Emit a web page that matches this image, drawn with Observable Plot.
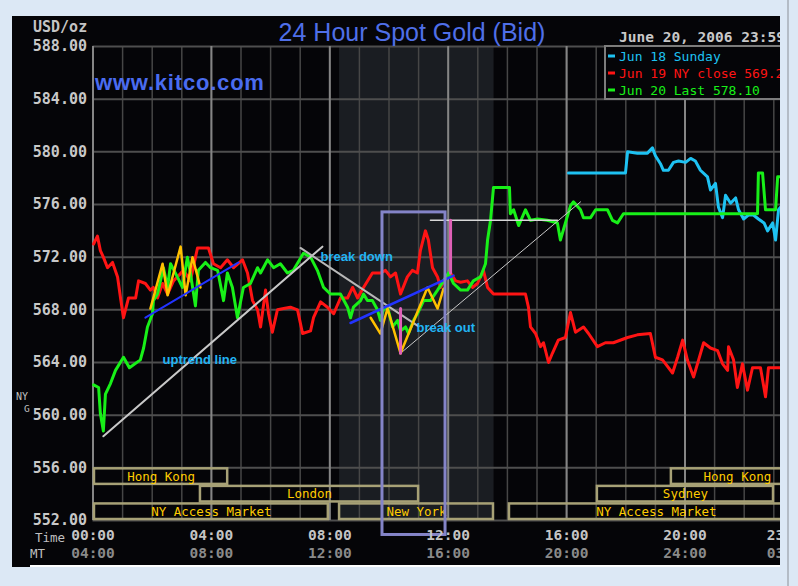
<!DOCTYPE html>
<html><head><meta charset="utf-8">
<script src="https://cdn.jsdelivr.net/npm/d3@7"></script>
<script src="https://cdn.jsdelivr.net/npm/@observablehq/plot@0.6"></script>
<style>
html,body{margin:0;padding:0;background:#dce8f5;overflow:hidden;width:798px;height:586px;}
#panel{position:absolute;left:12px;top:16px;width:768px;height:551px;background:#050508;}
#strip{position:absolute;left:30px;top:565px;width:750px;height:2px;background:#ffffff;}
#chart{position:absolute;left:0;top:0;width:810px;height:586px;}
#chart svg{max-width:none !important;width:810px !important;height:586px !important;}
#over{position:absolute;left:0;top:0;}
#rightbg{position:absolute;left:780px;top:0;width:18px;height:586px;background:#dce8f5;}
#rline{position:absolute;left:787px;top:0;width:2px;height:586px;background:#b4bcc6;}
</style></head>
<body>
<div id="panel"></div>
<div id="strip"></div>
<div id="chart"></div>
<svg id="over" width="798" height="586"></svg>
<div id="rightbg"></div>
<div id="rline"></div>
<script>
// ---- data (hours after 00:00 NY time, USD/oz) ----
const yTicks = [552, 556, 560, 564, 568, 572, 576, 580, 584, 588];
const xTicks = [0, 4, 8, 12, 16, 20, 23.5];
const timeLabels = ["00:00", "04:00", "08:00", "12:00", "16:00", "20:00", "23:30"];
const mtLabels = ["04:00", "08:00", "12:00", "16:00", "20:00", "24:00", "03:30"];
const hourLines = d3.range(0, 24, 1);
const majorHourLines = [0, 4, 8, 12, 16, 20];

const seriesNames = ["Jun 18 Sunday", "Jun 19 NY close 569.20", "Jun 20 Last 578.10"];
const seriesColors = ["#1ec2f2", "#ff1414", "#18f018"];

const jun18 = [[16.06,578.4],[17.99,578.4],[18.06,580.0],[18.39,579.9],[18.73,579.9],[18.90,580.3],[19.00,579.7],[19.17,579.1],[19.27,578.6],[19.44,578.6],[19.61,579.2],[19.78,579.3],[20.02,579.2],[20.19,579.5],[20.35,579.3],[20.52,578.6],[20.76,578.1],[20.86,577.1],[21.03,577.6],[21.13,575.8],[21.27,575.0],[21.37,576.7],[21.54,576.1],[21.71,576.5],[21.81,575.6],[21.98,574.9],[22.14,575.2],[22.31,575.2],[22.48,574.9],[22.67,574.6],[22.79,574.0],[22.96,574.6],[23.06,573.3],[23.16,575.6],[23.23,575.8]];

const jun19 = [[0.02,573.0],[0.15,573.6],[0.25,572.5],[0.35,572.0],[0.49,571.2],[0.66,571.6],[0.83,570.5],[0.93,568.9],[1.03,567.4],[1.20,568.9],[1.44,568.9],[1.54,570.2],[1.77,570.0],[1.94,569.5],[2.04,569.7],[2.18,568.9],[2.35,570.0],[2.52,569.2],[2.72,570.2],[2.89,570.6],[3.06,571.0],[3.29,570.2],[3.53,572.7],[3.73,572.7],[3.90,572.7],[4.07,571.5],[4.31,571.2],[4.54,571.8],[4.75,571.2],[5.05,571.8],[5.22,570.8],[5.39,568.7],[5.56,568.0],[5.66,566.7],[5.83,569.5],[5.93,567.7],[6.06,566.3],[6.23,568.0],[6.44,568.1],[6.67,568.2],[6.91,568.0],[7.08,566.2],[7.35,566.4],[7.45,567.4],[7.69,568.6],[7.92,568.2],[8.13,567.7],[8.36,568.9],[8.60,568.9],[8.77,569.7],[8.94,568.9],[9.14,569.7],[9.44,570.8],[9.71,570.8],[9.88,571.0],[10.05,570.5],[10.22,570.8],[10.39,569.2],[10.62,570.5],[10.79,571.0],[10.96,570.8],[11.06,572.5],[11.23,574.0],[11.33,573.3],[11.47,571.2],[11.64,570.5],[11.74,569.7],[11.91,570.4],[12.08,570.8],[12.25,570.2],[12.42,570.1],[12.65,570.2],[12.82,569.7],[12.99,570.0],[13.19,571.0],[13.33,569.7],[13.53,569.2],[14.61,569.2],[14.71,568.2],[14.78,566.7],[14.95,566.2],[15.12,565.2],[15.22,565.5],[15.39,564.0],[15.52,564.7],[15.72,565.7],[15.96,565.9],[16.13,567.8],[16.30,566.3],[16.57,566.7],[16.74,566.2],[17.04,565.2],[17.31,565.5],[17.58,565.5],[18.06,565.9],[18.39,566.1],[18.83,566.2],[19.00,564.4],[19.24,564.2],[19.58,563.2],[19.75,564.4],[19.92,565.7],[20.08,564.2],[20.29,562.9],[20.46,564.2],[20.63,565.5],[20.86,565.1],[21.10,564.9],[21.27,563.9],[21.44,563.4],[21.47,565.2],[21.64,564.2],[21.77,562.1],[21.94,563.9],[22.11,561.9],[22.28,563.6],[22.55,563.6],[22.72,561.4],[22.82,563.6],[23.16,563.6],[23.23,563.6]];

const jun20 = [[0.02,562.3],[0.19,562.1],[0.25,560.1],[0.35,558.8],[0.42,561.6],[0.59,562.4],[0.76,563.4],[1.03,564.4],[1.23,563.6],[1.60,564.2],[1.71,565.1],[1.84,566.7],[2.01,567.7],[2.04,568.7],[2.18,569.2],[2.38,571.2],[2.52,569.7],[2.62,571.5],[2.85,570.5],[3.02,569.7],[3.19,572.0],[3.29,570.8],[3.46,568.3],[3.56,571.0],[3.80,571.6],[3.97,571.2],[4.21,571.0],[4.41,568.7],[4.54,570.8],[4.71,569.7],[4.88,567.4],[5.08,569.7],[5.32,570.0],[5.56,571.2],[5.66,570.8],[5.90,571.8],[6.10,571.2],[6.33,571.5],[6.57,570.8],[6.77,571.0],[7.11,572.3],[7.35,572.0],[7.58,571.0],[7.79,569.7],[8.02,569.2],[8.36,569.2],[8.60,568.2],[8.70,567.4],[8.80,568.2],[9.04,568.7],[9.14,569.2],[9.27,568.7],[9.44,568.7],[9.61,568.0],[9.71,567.2],[9.81,568.0],[9.95,568.2],[10.12,566.7],[10.29,567.2],[10.39,566.4],[10.56,566.7],[10.66,566.2],[10.83,567.2],[10.96,567.7],[11.17,568.7],[11.40,568.7],[11.64,569.5],[11.84,570.2],[12.01,570.8],[12.18,570.0],[12.42,569.5],[12.65,569.5],[12.85,570.2],[13.09,570.5],[13.26,571.5],[13.33,573.3],[13.43,574.8],[13.53,577.3],[14.07,577.3],[14.10,575.3],[14.21,575.6],[14.38,574.4],[14.61,575.6],[14.78,574.8],[15.02,574.9],[15.35,574.8],[15.69,574.6],[15.79,573.3],[15.96,574.6],[16.13,575.9],[16.23,576.2],[16.47,575.6],[16.57,575.0],[16.81,575.0],[16.98,575.6],[17.38,575.6],[17.55,574.8],[17.72,574.6],[17.92,575.3],[22.45,575.3],[22.48,578.4],[22.62,578.4],[22.72,575.6],[23.06,575.6],[23.13,578.1],[23.23,578.1]];

// trading sessions (hours) and their row in the session strip
const sessions = [
  {name: "Hong Kong", start: 0.05, end: 4.55, row: 0},
  {name: "London", start: 3.63, end: 11.0, row: 1},
  {name: "NY Access Market", start: 0.05, end: 7.95, row: 2},
  {name: "New York", start: 8.33, end: 13.53, row: 2},
  {name: "NY Access Market", start: 14.07, end: 24, row: 2},
  {name: "Sydney", start: 17.04, end: 22.99, row: 1},
  {name: "Hong Kong", start: 19.54, end: 24, row: 0}
];
const nySessionShade = [{start: 8.33, end: 13.55}];

// hand-drawn annotations
const uptrendLine = [[0.35,558.4],[7.75,572.8]];
const breakDownLine = [[7.01,572.7],[10.96,566.8]];
const breakOutLine = [[10.39,564.7],[16.47,576.2]];
const channelLine1 = [[1.77,567.4],[4.92,571.6]];
const channelLine2 = [[8.70,567.0],[12.18,570.6]];
const zigzag1 = [[1.94,568.1],[2.35,571.5],[2.52,569.1],[2.96,572.8],[3.13,569.1],[3.36,572.0],[3.63,569.7]];
const zigzag2 = [[9.38,567.4],[9.71,566.2],[9.95,568.1],[10.39,564.7],[11.30,569.7],[11.64,568.1],[11.84,569.6]];
const pinkLine1 = [[10.39,568.1],[10.39,564.7]];
const pinkLine2 = [[12.08,574.8],[12.08,570.8]];
const resistanceLine = [[11.40,574.8],[15.69,574.8]];
const focusBox = [{x1: 9.78, x2: 11.91, y1: 550.9, y2: 575.4}];
const noteTexts = [
  {text: "uptrend line", h: 2.35, v: 564.2},
  {text: "break down", h: 7.69, v: 572.0},
  {text: "break out", h: 10.93, v: 566.6}
];

// ---- chart ----
const rowH = 4 / 3;
const X = d => d[0], Y = d => d[1];
const mono = "DejaVu Sans Mono";
const lineOpts = (color, w) => ({x: X, y: Y, stroke: color, strokeWidth: w, strokeLinejoin: "round"});

const chart = Plot.plot({
  width: 810, height: 586,
  marginLeft: 92.5, marginRight: 7.1, marginTop: 46, marginBottom: 66,
  style: {background: "transparent", overflow: "visible", maxWidth: "none"},
  x: {domain: [0, 24], axis: null},
  y: {domain: [552, 588], axis: null},
  marks: [
    Plot.rect(nySessionShade, {x1: "start", x2: "end", y1: 552, y2: 588, fill: "#1a1d22"}),
    Plot.ruleX(hourLines, {stroke: "#464646", strokeWidth: 1.5}),
    Plot.ruleY(yTicks, {stroke: "#4e4e4e", strokeWidth: 2}),
    Plot.ruleX(majorHourLines, {stroke: "#858585", strokeWidth: 2}),
    Plot.rect(sessions, {x1: "start", x2: "end",
      y1: d => 556 - d.row * rowH, y2: d => 556 - (d.row + 1) * rowH,
      fill: "none", stroke: "#a7a176", strokeWidth: 2.5, insetTop: 1, insetBottom: 1}),
    Plot.text(sessions, {x: d => (d.start + d.end) / 2, y: d => 556 - (d.row + 0.5) * rowH,
      text: "name", fill: "#ffcc00", fontFamily: mono, fontSize: 12.5}),
    Plot.line(jun18, lineOpts(seriesColors[0], 3)),
    Plot.line(jun19, lineOpts(seriesColors[1], 3)),
    Plot.line(jun20, lineOpts(seriesColors[2], 3)),
    Plot.line(uptrendLine, lineOpts("#c8c8c8", 2)),
    Plot.line(breakDownLine, lineOpts("#b8b8b8", 2)),
    Plot.line(breakOutLine, lineOpts("#c8c8c8", 1)),
    Plot.line(resistanceLine, lineOpts("#d8d8d8", 1.5)),
    Plot.line(zigzag1, lineOpts("#ffc000", 2.5)),
    Plot.line(zigzag2, lineOpts("#ffc000", 2.5)),
    Plot.line(channelLine1, lineOpts("#2233ff", 2)),
    Plot.line(channelLine2, lineOpts("#2233ff", 2.5)),
    Plot.line(pinkLine1, lineOpts("#e060b8", 3)),
    Plot.line(pinkLine2, lineOpts("#e060b8", 3)),
    Plot.rect(focusBox, {x1: "x1", x2: "x2", y1: "y1", y2: "y2", fill: "none", stroke: "#8484c8", strokeWidth: 3}),
    Plot.text(noteTexts, {x: "h", y: "v", text: "text", textAnchor: "start",
      fill: "#22b4f4", fontFamily: "Liberation Sans", fontWeight: "bold", fontSize: 13}),
    Plot.axisY(yTicks, {anchor: "left", tickSize: 0, tickPadding: 6, label: null,
      tickFormat: d => d.toFixed(2), color: "#c8c8c8",
      fontFamily: mono, fontWeight: "bold", fontSize: 15}),
    Plot.axisX(xTicks, {anchor: "bottom", tickSize: 0, tickPadding: 9, label: null,
      tickFormat: d => timeLabels[xTicks.indexOf(d)], color: "#c4c4c4",
      fontFamily: mono, fontWeight: "bold", fontSize: 14.5}),
    Plot.axisX(xTicks, {anchor: "bottom", tickSize: 0, tickPadding: 27, label: null,
      tickFormat: d => mtLabels[xTicks.indexOf(d)], color: "#8a8a8a",
      fontFamily: mono, fontWeight: "bold", fontSize: 14.5})
  ]
});
document.getElementById("chart").appendChild(chart);

// ---- titles, legend, side labels ----
const over = d3.select("#over");
function txt(x, y, s, o) {
  const t = over.append("text").attr("x", x).attr("y", y).text(s);
  for (const k in o) t.attr(k, o[k]);
  return t;
}
txt(412, 41, "24 Hour Spot Gold (Bid)", {"text-anchor": "middle", fill: "#4f6fe8", "font-family": "Liberation Sans", "font-size": 25});
txt(95, 90, "www.kitco.com", {fill: "#4a6cf0", "font-family": "Liberation Sans", "font-weight": "bold", "font-size": 22, "letter-spacing": 0.8});
txt(33, 32, "USD/oz", {fill: "#c4c4c4", "font-family": mono, "font-weight": "bold", "font-size": 15});
txt(619, 42, "June 20, 2006 23:59", {fill: "#c8c8c8", "font-family": mono, "font-weight": "bold", "font-size": 14.5});
txt(35, 542, "Time", {fill: "#c0c0c0", "font-family": mono, "font-size": 12.5});
txt(30, 558, "MT", {fill: "#c0c0c0", "font-family": mono, "font-size": 12.5});
txt(16, 400, "NY", {fill: "#c0c0c0", "font-family": mono, "font-size": 10});
txt(24, 412, "G", {fill: "#c0c0c0", "font-family": mono, "font-size": 9.5});

over.append("rect").attr("x", 605).attr("y", 46).attr("width", 200).attr("height", 53)
  .attr("fill", "#050508").attr("stroke", "#7c7c7c").attr("stroke-width", 2);
seriesNames.forEach((name, i) => {
  const cy = 56 + i * 17;
  over.append("rect").attr("x", 608).attr("y", cy - 1.5).attr("width", 7).attr("height", 3).attr("fill", seriesColors[i]);
  txt(619, cy + 4.5, name, {fill: seriesColors[i], "font-family": mono, "font-size": 13});
});
</script>
</body></html>
